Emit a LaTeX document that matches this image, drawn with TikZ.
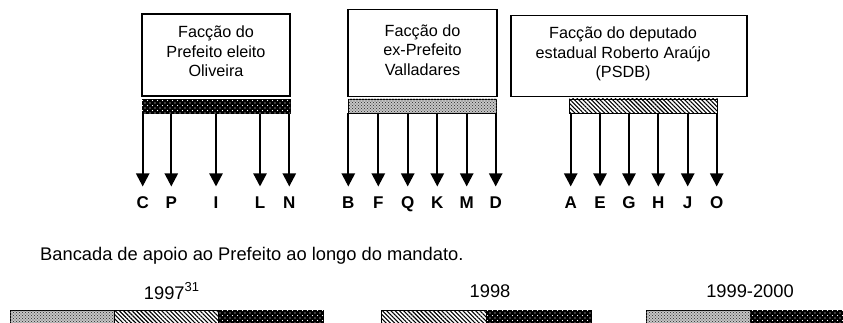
\documentclass[tikz,border=0pt]{standalone}
\usepackage{fontspec}
\setmainfont{Liberation Sans}
\usetikzlibrary{arrows.meta,patterns.meta}
\tikzset{
  box/.style={draw, line width=1.1pt, inner sep=0pt},
  boxtext/.style={font=\fontsize{16.2}{19.5}\selectfont, align=center, inner sep=0pt},
  lab/.style={font=\fontsize{17}{20}\selectfont\bfseries, inner sep=0pt, anchor=north},
  lowtext/.style={font=\fontsize{18.3}{22}\selectfont, inner sep=0pt},
  arr/.style={line width=2.3pt, -{Triangle[length=13pt,width=13pt]}, shorten >=10pt},
  bar/.style={draw, line width=0.8pt, inner sep=0pt, minimum height=14pt},
  darkdots/.style={fill=black,
    postaction={pattern={Dots[distance=5pt,radius=0.55pt]}, pattern color=white},
    postaction={pattern={Dots[distance=5pt,radius=0.55pt,xshift=2.5pt,yshift=2.5pt]}, pattern color=white}},
  graydots/.style={fill=black!20,
    postaction={pattern={Dots[distance=3pt,radius=0.7pt]}, pattern color=black!75},
    postaction={pattern={Dots[distance=3pt,radius=0.7pt,xshift=1.5pt,yshift=1.5pt]}, pattern color=black!75}},
  hatch/.style={fill=white,
    postaction={pattern={Lines[angle=-45,distance=3pt,line width=1.1pt]}, pattern color=black}},
}
\begin{document}
\begin{tikzpicture}[x=1pt,y=-1pt]
\useasboundingbox (0,0) rectangle (843,323);
\clip (0,0) rectangle (843,323);
% boxes
\node[box, minimum width=148pt, minimum height=82pt] (b1) at (216,55) {};
\node[boxtext] (t1) at (216,51.5) {Facção do\\Prefeito eleito\\Oliveira};
\node[box, minimum width=149pt, minimum height=87.5pt] (b2) at (422.5,53) {};
\node[boxtext] (t2) at (422.5,50) {Facção do\\ex-Prefeito\\Valladares};
\node[box, minimum width=236pt, minimum height=80.7pt] (b3) at (629,56.3) {};
\node[boxtext] (t3) at (623,54) {Facção do deputado\\estadual Roberto Araújo\\(PSDB)};
% bars
\node[bar, darkdots, minimum width=148pt] (bar1) at (216,106.3) {};
\node[bar, graydots, minimum width=148.4pt] (bar2) at (422.5,106) {};
\node[bar, hatch, minimum width=148.4pt] (bar3) at (643.5,106) {};
% labels
\foreach \n/\x in {C/142.7,P/171.3,I/216,L/260,N/289.3}{
  \node[lab] (l\n) at (\x,196.5) {\n};
  \draw[arr] (bar1.south -| l\n) -- (l\n.north);
}
\foreach \n/\x in {B/348.3,F/378.3,Q/407.7,K/437.3,M/466.7,D/495.7}{
  \node[lab] (l\n) at (\x,196.5) {\n};
  \draw[arr] (bar2.south -| l\n) -- (l\n.north);
}
\foreach \n/\x in {A/570.7,E/600,G/629,H/658.3,J/687.7,O/716.7}{
  \node[lab] (l\n) at (\x,196.5) {\n};
  \draw[arr] (bar3.south -| l\n) -- (l\n.north);
}
% lower part
\node[lowtext, anchor=west] (title) at (40,256) {Bancada de apoio ao Prefeito ao longo do mandato.};
\node[lowtext] (y1) at (171.5,291) {1997\raisebox{0.45em}{\fontsize{13}{15}\selectfont 31}};
\node[lowtext] (y2) at (490,291) {1998};
\node[lowtext] (y3) at (750,291) {1999-2000};
\node[bar, graydots, minimum width=104.3pt, minimum height=16pt] (s1a) at (62.15,318.7) {};
\node[bar, hatch, minimum width=104pt, minimum height=16pt] (s1b) at (166.3,318.7) {};
\node[bar, darkdots, minimum width=105pt, minimum height=16pt] (s1c) at (270.8,318.7) {};
\node[bar, hatch, minimum width=105pt, minimum height=16pt] (s2a) at (434.2,318.7) {};
\node[bar, darkdots, minimum width=105pt, minimum height=16pt] (s2b) at (539.2,318.7) {};
\node[bar, graydots, minimum width=104pt, minimum height=16pt] (s3a) at (698,318.7) {};
\node[bar, darkdots, minimum width=104pt, minimum height=16pt] (s3b) at (802,318.7) {};
\end{tikzpicture}
\end{document}
